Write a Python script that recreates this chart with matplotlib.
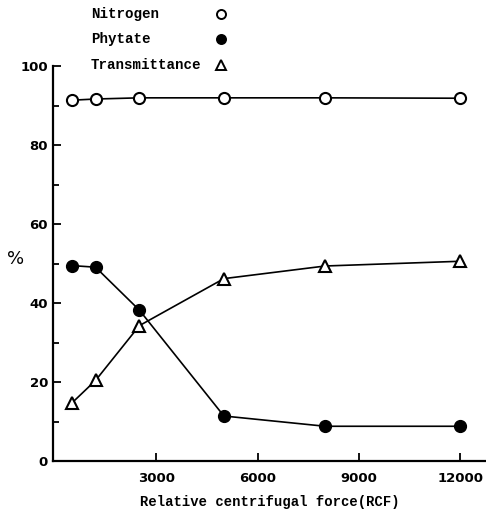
import matplotlib
matplotlib.use('Agg')
import matplotlib.pyplot as plt

# relative centrifugal force (RCF) and % values
rcf = [500, 1200, 2500, 5000, 8000, 12000]
nitrogen = [91.4, 91.7, 92.0, 92.0, 92.0, 91.9]
phytate = [49.5, 49.1, 38.2, 11.4, 8.8, 8.8]
transmittance = [14.7, 20.4, 34.3, 46.2, 49.4, 50.6]

legend_labels = ['Nitrogen', 'Phytate', 'Transmittance']
legend_markers = ['o', 'o', '^']
legend_faces = ['white', 'black', 'white']

x_ticks = [3000, 6000, 9000, 12000]
y_major = [0, 20, 40, 60, 80, 100]
y_minor = [10, 30, 50, 70, 90]

mono = 'Liberation Mono'

fig = plt.figure(figsize=(4.86, 5.12), dpi=100)
ax = fig.add_axes([0.109, 0.0996, 0.891, 0.771])

ax.plot(rcf, nitrogen, color='black', lw=1.2, marker='o', ms=8,
        mfc='white', mec='black', mew=1.5, clip_on=False, zorder=3)
ax.plot(rcf, phytate, color='black', lw=1.2, marker='o', ms=8.5,
        mfc='black', mec='black', clip_on=False, zorder=3)
ax.plot(rcf, transmittance, color='black', lw=1.2, marker='^', ms=8.5,
        mfc='white', mec='black', mew=1.5, clip_on=False, zorder=3)

ax.set_xlim(-60, 12760)
ax.set_ylim(0, 100)
ax.spines['top'].set_visible(False)
ax.spines['right'].set_visible(False)
ax.spines['left'].set_linewidth(1.6)
ax.spines['bottom'].set_linewidth(1.6)

ax.set_xticks(x_ticks)
ax.set_xticklabels([str(t) for t in x_ticks])
ax.set_yticks(y_major)
ax.set_yticks(y_minor, minor=True)
ax.tick_params(axis='both', which='both', direction='in', width=1.3, labelsize=9.5)
ax.tick_params(axis='both', which='major', length=6)
ax.tick_params(axis='y', which='minor', length=4)
ax.tick_params(axis='x', pad=8)
for lab in ax.get_xticklabels() + ax.get_yticklabels():
    lab.set_fontweight('bold')

ax.set_xlabel('Relative centrifugal force(RCF)', fontfamily=mono,
              fontweight='bold', fontsize=10, labelpad=7)
fig.text(0.032, 0.495, '%', fontsize=13, ha='center', va='center')

# legend drawn as text with markers to the right
rows_y = [0.972, 0.923, 0.874]
for lab, mk, fc, yy in zip(legend_labels, legend_markers, legend_faces, rows_y):
    fig.text(0.187, yy, lab, fontfamily=mono, fontweight='bold',
             fontsize=10.2, ha='left', va='center')
    ax.plot([0.455], [yy], transform=fig.transFigure, ls='none', marker=mk,
            ms=6.5 if mk == 'o' else 7, mfc=fc, mec='black', mew=1.4, clip_on=False)

fig.savefig('out.png', dpi=100)
